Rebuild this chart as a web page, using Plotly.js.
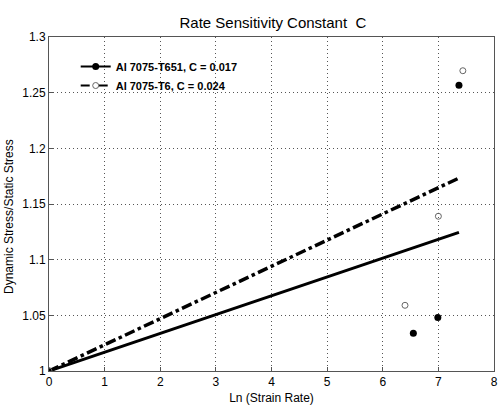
<!DOCTYPE html>
<html><head><meta charset="utf-8">
<script src="https://cdn.plot.ly/plotly-3.0.1.min.js"></script>
<style>body{margin:0;background:#fff}#c{width:498px;height:414px}</style>
</head><body><div id="c"></div>
<script>
var fitX = [0, 7.37];
var fitT651 = [1, 1.1245];
var fitT6 = [1, 1.1733];
var ptsT651X = [0, 6.55, 6.99, 7.37];
var ptsT651Y = [1, 1.034, 1.048, 1.2566];
var ptsT6X = [0, 6.40, 7.00, 7.44];
var ptsT6Y = [1, 1.059, 1.139, 1.2697];
var legendNames = ['Al 7075-T651, C = 0.017', 'Al 7075-T6, C = 0.024'];
var xTicks = [0,1,2,3,4,5,6,7,8];
var yTicks = [1,1.05,1.1,1.15,1.2,1.25,1.3];
var yTickText = ['1','1.05','1.1','1.15','1.2','1.25','1.3'];

var traces = [
  {x: fitX, y: fitT651, mode:'lines', line:{color:'#000', width:3}, showlegend:false},
  {x: fitX, y: fitT6, mode:'lines', line:{color:'#000', width:3.5, dash:'dashdot'}, showlegend:false},
  {x: ptsT651X, y: ptsT651Y, mode:'markers', marker:{color:'#000', size:7}, showlegend:false},
  {x: ptsT6X, y: ptsT6Y, mode:'markers', marker:{symbol:'circle-open', color:'#666', size:6, line:{width:1}}, showlegend:false},
  {x:[null], y:[null], mode:'lines+markers', name: legendNames[0], line:{color:'#000', width:2}, marker:{color:'#000', size:7}},
  {x:[null], y:[null], mode:'lines+markers', name: legendNames[1], line:{color:'#000', width:2, dash:'dash'}, marker:{symbol:'circle-open', color:'#666', size:6}}
];
var axisCommon = {showline:true, mirror:true, linecolor:'#555', linewidth:1, ticks:'inside', ticklen:4, tickcolor:'#555',
  showgrid:true, gridcolor:'#555', griddash:'1px,3px', gridwidth:1, zeroline:false, tickfont:{family:'Liberation Sans, Arial', size:12, color:'#000'}};
var layout = {
  width:498, height:414,
  margin:{l:49, r:4, t:37, b:43},
  paper_bgcolor:'#fff', plot_bgcolor:'#fff',
  font:{family:'Liberation Sans, Arial', color:'#000'},
  title:{text:'Rate Sensitivity Constant  C', font:{size:15, family:'Liberation Sans, Arial'}, x:0.548, xanchor:'center', y:0.958},
  xaxis: Object.assign({}, axisCommon, {range:[0,8], tickvals:xTicks, title:{text:'Ln (Strain Rate)', font:{size:12}, standoff:5}}),
  yaxis: Object.assign({}, axisCommon, {range:[1,1.3], tickvals:yTicks, ticktext:yTickText}),
  legend:{x:0.06, y:0.955, xanchor:'left', yanchor:'top', bgcolor:'rgba(0,0,0,0)', font:{size:11, weight:'bold'}, tracegroupgap:0, itemwidth:30},
  annotations:[{text:'Dynamic Stress/Static Stress', xref:'paper', yref:'paper', x:-0.09, y:0.464, xanchor:'center', yanchor:'middle', textangle:-90, showarrow:false, font:{size:12}}]
};
Plotly.newPlot('c', traces, layout, {staticPlot:true});
</script></body></html>
